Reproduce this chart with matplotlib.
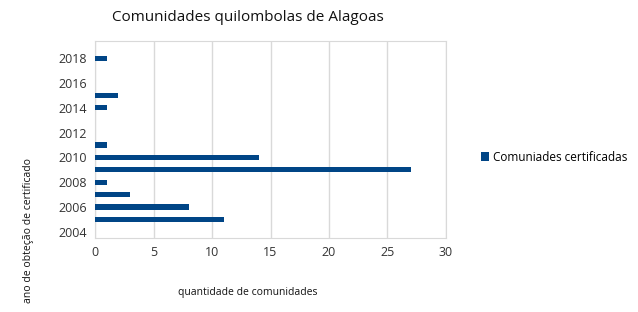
import matplotlib.pyplot as plt

anos = [2005, 2006, 2007, 2008, 2009, 2010, 2011, 2014, 2015, 2018]
comunidades = [11, 8, 3, 1, 27, 14, 1, 1, 2, 1]
rotulos_anos = [2004, 2006, 2008, 2010, 2012, 2014, 2016, 2018]

plt.rcParams['font.family'] = ['Open Sans', 'DejaVu Sans']
azul = '#004586'
cinza = '#d9d9d9'

fig = plt.figure(figsize=(6.38, 3.12), dpi=100)
ax = fig.add_axes([0.149, 0.237, 0.550, 0.632])

ax.barh(anos, comunidades, height=0.42, color=azul, label='Comuniades certificadas', zorder=3)

ax.set_xlim(0, 30)
ax.set_xticks([0, 5, 10, 15, 20, 25, 30])
ax.set_ylim(2003.5, 2019.4)
ax.set_yticks(rotulos_anos)
ax.tick_params(length=0, labelsize=9, colors='#333333', pad=6)
ax.grid(axis='x', color=cinza, linewidth=1, zorder=0)
for s in ax.spines.values():
    s.set_color(cinza)

fig.text(0.389, 0.945, 'Comunidades quilombolas de Alagoas', ha='center', va='center',
         fontsize=11, color='#111111')
fig.text(0.389, 0.062, 'quantidade de comunidades', ha='center', va='center',
         fontsize=7.5, color='#111111')
fig.text(0.044, 0.26, 'ano de obteção de certificado', ha='center', va='center',
         rotation=90, fontsize=7.5, color='#111111')

ax.legend(loc='center left', bbox_to_anchor=(1.07, 0.41), frameon=False, fontsize=8.5,
          handlelength=0.7, handleheight=0.7, handletextpad=0.3)

fig.savefig('out.png', dpi=100)
